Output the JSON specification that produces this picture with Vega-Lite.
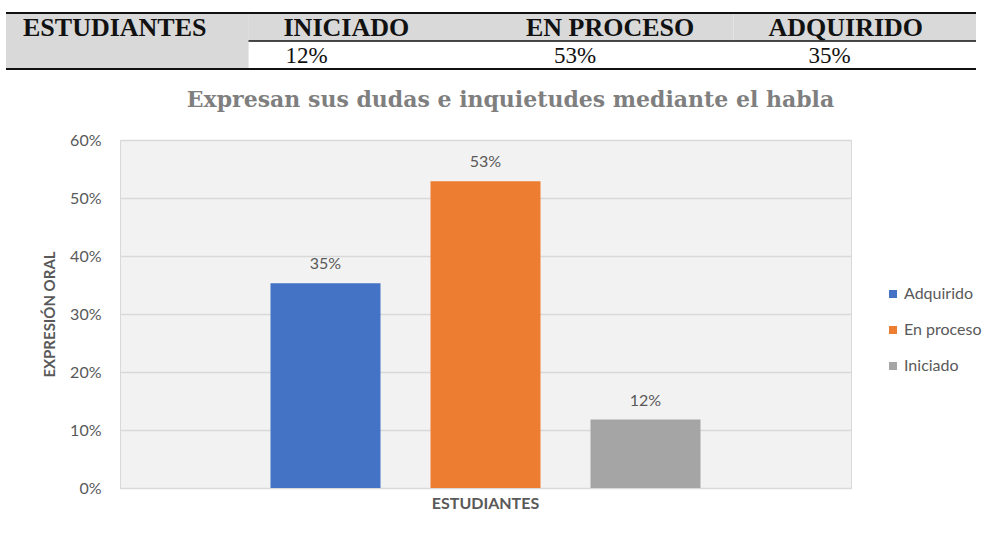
{
  "$schema": "https://vega.github.io/schema/vega-lite/v6.json",
  "padding": {"left": 5, "top": 12, "right": 0, "bottom": 0},
  "background": "white",
  "spacing": 18,
  "vconcat": [
    {
      "width": 970,
      "height": 56,
      "view": {"stroke": null},
      "data": {"values": [
        {"fila": "encabezado", "columna": "ESTUDIANTES", "texto": "ESTUDIANTES", "fondo": "gris"},
        {"fila": "encabezado", "columna": "INICIADO", "texto": "INICIADO", "fondo": "gris"},
        {"fila": "encabezado", "columna": "EN PROCESO", "texto": "EN PROCESO", "fondo": "gris"},
        {"fila": "encabezado", "columna": "ADQUIRIDO", "texto": "ADQUIRIDO", "fondo": "gris"},
        {"fila": "valor", "columna": "ESTUDIANTES", "texto": "", "fondo": "gris"},
        {"fila": "valor", "columna": "INICIADO", "texto": "12%", "fondo": "blanco"},
        {"fila": "valor", "columna": "EN PROCESO", "texto": "53%", "fondo": "blanco"},
        {"fila": "valor", "columna": "ADQUIRIDO", "texto": "35%", "fondo": "blanco"}
      ]},
      "layer": [
        {
          "mark": {"type": "rect"},
          "encoding": {
            "x": {"field": "columna", "type": "nominal", "sort": ["ESTUDIANTES", "INICIADO", "EN PROCESO", "ADQUIRIDO"], "axis": null, "scale": {"paddingInner": 0, "paddingOuter": 0}},
            "y": {"field": "fila", "type": "nominal", "sort": ["encabezado", "valor"], "axis": null, "scale": {"paddingInner": 0, "paddingOuter": 0}},
            "fill": {"field": "fondo", "type": "nominal", "scale": {"domain": ["gris", "blanco"], "range": ["#d9d9d9", "#ffffff"]}, "legend": null}
          }
        },
        {
          "transform": [{"filter": "datum.fila === 'valor' && datum.columna === 'ESTUDIANTES'"}],
          "mark": {"type": "rule", "color": "#111111", "strokeWidth": 1.5},
          "encoding": {
            "y": {"field": "fila", "type": "nominal", "sort": ["encabezado", "valor"], "axis": null, "bandPosition": 0}
          }
        },
        {
          "transform": [{"filter": "datum.columna === 'ESTUDIANTES'"}],
          "mark": {"type": "rect", "color": "#d9d9d9"},
          "encoding": {
            "x": {"field": "columna", "type": "nominal", "sort": ["ESTUDIANTES", "INICIADO", "EN PROCESO", "ADQUIRIDO"], "axis": null},
            "y": {"field": "fila", "type": "nominal", "sort": ["encabezado", "valor"], "axis": null}
          }
        },
        {
          "transform": [{"filter": "datum.fila === 'encabezado' && datum.columna === 'ESTUDIANTES'"}],
          "mark": {"type": "rule", "color": "#111111", "strokeWidth": 2},
          "encoding": {
            "y": {"field": "fila", "type": "nominal", "sort": ["encabezado", "valor"], "axis": null, "bandPosition": 0}
          }
        },
        {
          "transform": [{"filter": "datum.fila === 'valor' && datum.columna === 'ESTUDIANTES'"}],
          "mark": {"type": "rule", "color": "#111111", "strokeWidth": 2},
          "encoding": {
            "y": {"field": "fila", "type": "nominal", "sort": ["encabezado", "valor"], "axis": null, "bandPosition": 1}
          }
        },
        {
          "transform": [{"filter": "datum.fila === 'encabezado' && datum.columna === 'ESTUDIANTES'"}],
          "mark": {"type": "text", "align": "left", "baseline": "alphabetic", "dx": 17, "dy": 9, "font": "Liberation Serif", "fontWeight": "bold", "fontSize": 26, "color": "#111111"},
          "encoding": {
            "x": {"field": "columna", "type": "nominal", "sort": ["ESTUDIANTES", "INICIADO", "EN PROCESO", "ADQUIRIDO"], "axis": null, "bandPosition": 0},
            "y": {"field": "fila", "type": "nominal", "sort": ["encabezado", "valor"], "axis": null},
            "text": {"field": "texto"}
          }
        },
        {
          "transform": [{"filter": "datum.fila === 'encabezado' && datum.columna !== 'ESTUDIANTES'"}],
          "mark": {"type": "text", "align": "left", "baseline": "alphabetic", "dx": 35, "dy": 9, "font": "Liberation Serif", "fontWeight": "bold", "fontSize": 26, "color": "#111111"},
          "encoding": {
            "x": {"field": "columna", "type": "nominal", "sort": ["ESTUDIANTES", "INICIADO", "EN PROCESO", "ADQUIRIDO"], "axis": null, "bandPosition": 0},
            "y": {"field": "fila", "type": "nominal", "sort": ["encabezado", "valor"], "axis": null},
            "text": {"field": "texto"}
          }
        },
        {
          "transform": [{"filter": "datum.fila === 'valor' && datum.columna === 'INICIADO'"}],
          "mark": {"type": "text", "align": "left", "baseline": "alphabetic", "dx": 37, "dy": 8, "font": "Liberation Serif", "fontSize": 23, "color": "#111111"},
          "encoding": {
            "x": {"field": "columna", "type": "nominal", "sort": ["ESTUDIANTES", "INICIADO", "EN PROCESO", "ADQUIRIDO"], "axis": null, "bandPosition": 0},
            "y": {"field": "fila", "type": "nominal", "sort": ["encabezado", "valor"], "axis": null},
            "text": {"field": "texto"}
          }
        },
        {
          "transform": [{"filter": "datum.fila === 'valor' && datum.columna === 'EN PROCESO'"}],
          "mark": {"type": "text", "align": "left", "baseline": "alphabetic", "dx": 63, "dy": 8, "font": "Liberation Serif", "fontSize": 23, "color": "#111111"},
          "encoding": {
            "x": {"field": "columna", "type": "nominal", "sort": ["ESTUDIANTES", "INICIADO", "EN PROCESO", "ADQUIRIDO"], "axis": null, "bandPosition": 0},
            "y": {"field": "fila", "type": "nominal", "sort": ["encabezado", "valor"], "axis": null},
            "text": {"field": "texto"}
          }
        },
        {
          "transform": [{"filter": "datum.fila === 'valor' && datum.columna === 'ADQUIRIDO'"}],
          "mark": {"type": "text", "align": "left", "baseline": "alphabetic", "dx": 75, "dy": 8, "font": "Liberation Serif", "fontSize": 23, "color": "#111111"},
          "encoding": {
            "x": {"field": "columna", "type": "nominal", "sort": ["ESTUDIANTES", "INICIADO", "EN PROCESO", "ADQUIRIDO"], "axis": null, "bandPosition": 0},
            "y": {"field": "fila", "type": "nominal", "sort": ["encabezado", "valor"], "axis": null},
            "text": {"field": "texto"}
          }
        }
      ]
    },
    {
      "spacing": 0,
      "hconcat": [
        {
          "width": 36,
          "height": 10,
          "view": {"stroke": null},
          "data": {"values": [{}]},
          "mark": {"type": "text", "text": ""},
          "encoding": {}
        },
        {
          "width": 731,
          "height": 348,
          "view": {"fill": "#f2f2f2", "stroke": "#d9d9d9"},
          "title": {"text": "Expresan sus dudas e inquietudes mediante el habla", "font": "DejaVu Serif", "fontWeight": "bold", "fontSize": 22, "color": "#7f7f7f", "anchor": "middle", "frame": "group", "dx": 25, "baseline": "alphabetic", "offset": 3},
          "data": {"values": [
            {"grupo": "ESTUDIANTES", "nivel": "Adquirido", "porcentaje": 0.353},
            {"grupo": "ESTUDIANTES", "nivel": "En proceso", "porcentaje": 0.529},
            {"grupo": "ESTUDIANTES", "nivel": "Iniciado", "porcentaje": 0.118}
          ]},
          "encoding": {
            "x": {"field": "grupo", "type": "nominal", "scale": {"paddingInner": 0, "paddingOuter": 0.35},
              "axis": {"title": null, "domain": false, "ticks": false, "labelAngle": 0, "labelFont": "Lato", "labelFontSize": 16, "labelFontWeight": "bold", "labelColor": "#595959", "labelPadding": 7}},
            "xOffset": {"field": "nivel", "type": "nominal", "sort": ["Adquirido", "En proceso", "Iniciado"], "scale": {"paddingInner": 0.3125, "paddingOuter": 0}},
            "y": {"field": "porcentaje", "type": "quantitative", "scale": {"domain": [0, 0.6], "nice": false},
              "axis": {"values": [0, 0.1, 0.2, 0.3, 0.4, 0.5, 0.6], "format": ".0%", "title": "EXPRESIÓN ORAL", "domain": false, "ticks": false, "grid": true, "gridColor": "#d9d9d9", "gridWidth": 1.5, "labelFont": "Lato", "labelFontSize": 16, "labelColor": "#595959", "labelPadding": 19, "titleFont": "Lato", "titleFontSize": 15, "titleFontWeight": "bold", "titleColor": "#595959", "titlePadding": 12}}
          },
          "layer": [
            {
              "mark": {"type": "bar"},
              "encoding": {
                "color": {"field": "nivel", "type": "nominal", "scale": {"domain": ["Adquirido", "En proceso", "Iniciado"], "range": ["#4472C4", "#ED7D31", "#A5A5A5"]},
                  "legend": {"title": null, "orient": "none", "legendX": 879, "legendY": 273, "symbolType": "square", "symbolSize": 64, "symbolStrokeWidth": 0, "labelFont": "Lato", "labelFontSize": 16, "labelColor": "#595959", "rowPadding": 20, "labelOffset": 3, "padding": 0}}
              }
            },
            {
              "mark": {"type": "text", "dy": -14, "baseline": "alphabetic", "font": "Lato", "fontSize": 16, "color": "#595959"},
              "encoding": {
                "text": {"field": "porcentaje", "type": "quantitative", "format": ".0%"}
              }
            }
          ]
        }
      ]
    }
  ]
}
